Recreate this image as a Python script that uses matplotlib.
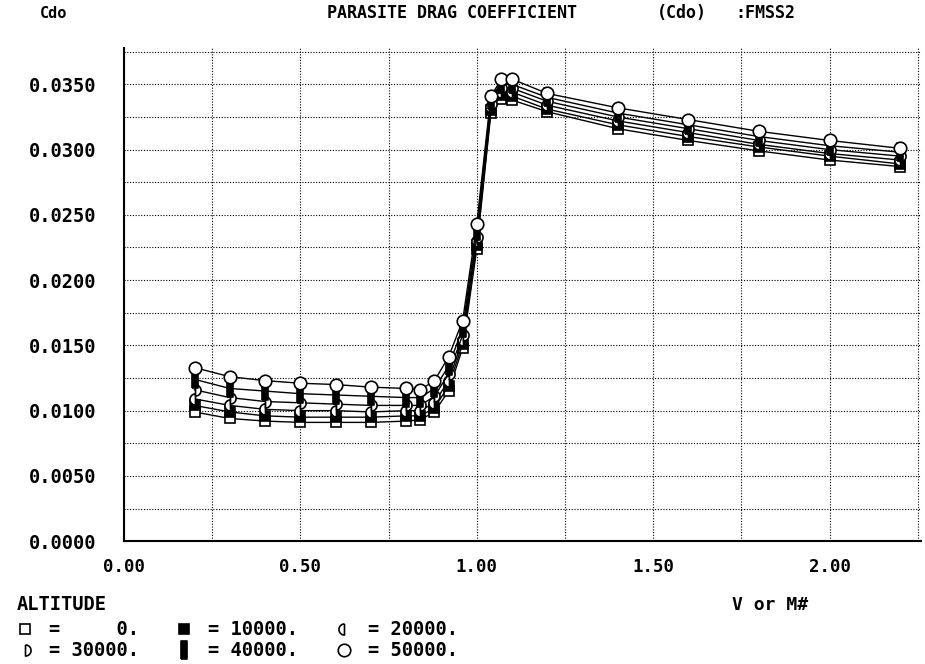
import numpy as np
import matplotlib
matplotlib.use("Agg")
import matplotlib.pyplot as plt
from matplotlib.path import Path
from matplotlib.lines import Line2D

# Mach numbers of the tabulated points
mach = [0.20, 0.30, 0.40, 0.50, 0.60, 0.70, 0.80, 0.84, 0.88, 0.92, 0.96, 1.00,
        1.04, 1.07, 1.10, 1.20, 1.40, 1.60, 1.80, 2.00, 2.20]

# Cdo, one list per altitude (ft)
cdo_0 = [0.0099, 0.0094, 0.0092, 0.0091, 0.0091, 0.0091, 0.0092, 0.0093, 0.0099, 0.0115, 0.0148,
         0.0224, 0.0328, 0.0339, 0.0338, 0.0329, 0.0316, 0.0307, 0.0299, 0.0292, 0.0287]
cdo_10k = [0.0104, 0.0099, 0.0096, 0.0095, 0.0095, 0.0095, 0.0096, 0.0096, 0.0102, 0.0119, 0.0151,
           0.0227, 0.0330, 0.0342, 0.0341, 0.0331, 0.0319, 0.0310, 0.0302, 0.0295, 0.0289]
cdo_20k = [0.0109, 0.0104, 0.0101, 0.0100, 0.0100, 0.0099, 0.0100, 0.0100, 0.0106, 0.0123, 0.0154,
           0.0230, 0.0333, 0.0344, 0.0344, 0.0334, 0.0322, 0.0313, 0.0304, 0.0297, 0.0292]
cdo_30k = [0.0116, 0.0110, 0.0107, 0.0106, 0.0105, 0.0104, 0.0104, 0.0104, 0.0111, 0.0128, 0.0158,
           0.0233, 0.0335, 0.0347, 0.0347, 0.0337, 0.0325, 0.0316, 0.0307, 0.0300, 0.0295]
cdo_40k = [0.0124, 0.0117, 0.0115, 0.0113, 0.0112, 0.0111, 0.0110, 0.0110, 0.0117, 0.0134, 0.0163,
           0.0238, 0.0338, 0.0350, 0.0350, 0.0340, 0.0328, 0.0319, 0.0310, 0.0303, 0.0298]
cdo_50k = [0.0133, 0.0126, 0.0123, 0.0121, 0.0120, 0.0118, 0.0117, 0.0116, 0.0123, 0.0141, 0.0169,
           0.0243, 0.0341, 0.0354, 0.0354, 0.0343, 0.0332, 0.0323, 0.0314, 0.0307, 0.0301]

altitudes = ["0.", "10000.", "20000.", "30000.", "40000.", "50000."]
series = [cdo_0, cdo_10k, cdo_20k, cdo_30k, cdo_40k, cdo_50k]

x_ticks = [0.0, 0.5, 1.0, 1.5, 2.0]
y_ticks = [0.0, 0.005, 0.010, 0.015, 0.020, 0.025, 0.030, 0.035]

# marker shapes used by the old plotting program
th = np.linspace(np.pi / 2, 3 * np.pi / 2, 24)
left_half = Path(list(zip(np.cos(th), np.sin(th))) + [(0, 1)])
right_half = Path(list(zip(-np.cos(th), np.sin(th))) + [(0, 1)])
bar = Path([(-0.28, -1), (0.28, -1), (0.28, 1), (-0.28, 1), (-0.28, -1)])

styles = [
    dict(marker="s", ms=7, mfc="white"),
    dict(marker="s", ms=7, mfc="black"),
    dict(marker=left_half, ms=8, mfc="white"),
    dict(marker=right_half, ms=8, mfc="white"),
    dict(marker=bar, ms=13, mfc="black"),
    dict(marker="o", ms=9, mfc="white"),
]

font = dict(family="DejaVu Sans Mono", weight="bold")

fig = plt.figure(figsize=(9.25, 6.64), dpi=100)
ax = fig.add_axes([0.134, 0.185, 0.862, 0.743])

for vals, st in zip(series, styles):
    ax.plot(mach, vals, color="black", linewidth=1.0, mec="black", mew=1.2, **st)

ax.set_xlim(0, 2.26)
ax.set_ylim(0, 0.0378)
ax.set_xticks(x_ticks)
ax.set_yticks(y_ticks)
ax.set_xticks(np.arange(0.25, 2.26, 0.5), minor=True)
ax.set_yticks(np.arange(0.0025, 0.0376, 0.005), minor=True)
ax.set_xticklabels([f"{v:.2f}" for v in x_ticks], fontsize=12.5, **font)
ax.set_yticklabels([f"{v:.4f}" for v in y_ticks], fontsize=13.5, **font)
ax.tick_params(which="both", length=0)
ax.tick_params(axis="x", pad=12)
ax.tick_params(axis="y", pad=20)
ax.grid(True, which="both", color="black", linestyle=(0, (1, 1.5)), linewidth=0.8)
ax.set_axisbelow(True)
for side in ["top", "right"]:
    ax.spines[side].set_visible(False)
for side in ["left", "bottom"]:
    ax.spines[side].set_linewidth(1.5)

fig.text(40 / 925, 1 - 13 / 664, "Cdo", fontsize=11, va="center", **font)
fig.text(327 / 925, 1 - 13 / 664, "PARASITE DRAG COEFFICIENT", fontsize=12, va="center", **font)
fig.text(657 / 925, 1 - 13 / 664, "(Cdo)", fontsize=12, va="center", **font)
fig.text(735 / 925, 1 - 13 / 664, ":FMSS2", fontsize=12, va="center", **font)
fig.text(17 / 925, 1 - 605 / 664, "ALTITUDE", fontsize=13.5, va="center", **font)
fig.text(732 / 925, 1 - 605 / 664, "V or M#", fontsize=13, va="center", **font)

# legend: 3 columns x 2 rows
handles = [Line2D([], [], color="black", linestyle="none", mec="black", mew=1.2, **st) for st in styles]
labels = ["= " + a.rjust(6) for a in altitudes]
order = [0, 3, 1, 4, 2, 5]
leg = fig.legend([handles[i] for i in order], [labels[i] for i in order],
                 loc="upper left", bbox_to_anchor=(6 / 925, 1 - 611 / 664), ncol=3,
                 frameon=False, handlelength=1.0, handletextpad=0.8, columnspacing=1.9,
                 labelspacing=0.1, borderpad=0, prop=dict(family="DejaVu Sans Mono", weight="bold", size=13.5))

fig.savefig("out.png", dpi=100)
